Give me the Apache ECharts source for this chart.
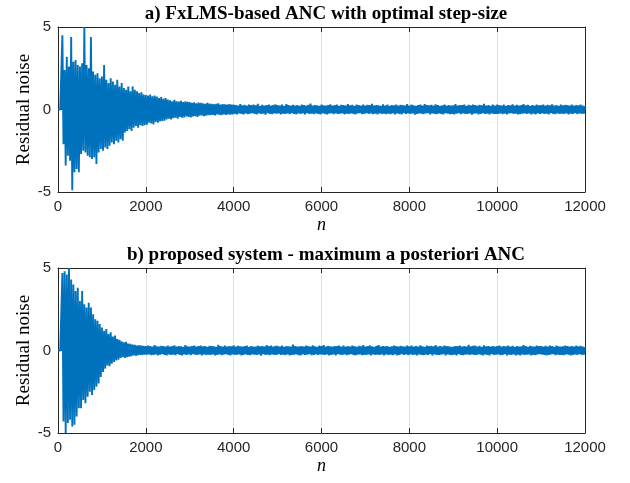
<!DOCTYPE html>
<html><head><meta charset="utf-8">
<script src="https://cdn.jsdelivr.net/npm/echarts@6/dist/echarts.min.js"></script>
<style>html,body{margin:0;padding:0;background:#fff}#c{width:630px;height:483px}</style>
</head><body><div id="c"></div>
<script>
const panelTitles = ['a) FxLMS-based ANC with optimal step-size', 'b) proposed system - maximum a posteriori ANC'];
const yAxisName = 'Residual noise';
const xAxisName = 'n';
const xMin = 0, xMax = 12000, xInterval = 2000;
const yMin = -5, yMax = 5, yInterval = 5;
const sampleStep = 25; // samples between consecutive stored values

// residual noise (a) – values read every 25 samples
const residualA = [
0,0,0,0,4.5,-2.1,2.4,-3.4,3.2,-2.8,2.6,-3.1,4.4,-4.9,2.9,-3.8,3.0,-3.6,2.7,-3.8,
2.6,-2.7,2.8,-2.5,5.0,-2.6,2.7,-2.8,2.5,-2.9,4.4,-3.0,2.3,-2.9,2.1,-3.3,2.2,-2.6,1.9,-2.4,
2.0,-2.5,2.7,-2.3,1.8,-2.4,1.6,-2.2,1.9,-2.0,1.7,-2.1,1.5,-1.9,1.8,-2.0,1.4,-1.8,1.6,-1.9,
1.3,-1.4,1.2,-1.3,1.4,-1.2,1.1,-1.3,1.4,-1.1,1.2,-1.0,1.1,-1.1,1.0,-0.95,1.05,-1.0,0.9,-0.95,
0.88,-0.92,0.85,-0.8,0.9,-0.85,0.8,-0.9,0.85,-0.75,0.78,-0.8,0.7,-0.72,0.75,-0.7,0.65,-0.68,0.7,-0.6,
0.6,-0.55,0.55,-0.6,0.5,-0.52,0.58,-0.5,0.5,-0.55,0.48,-0.45,0.52,-0.5,0.45,-0.48,0.5,-0.42,0.46,-0.45,
0.45,-0.48,0.4,-0.42,0.44,-0.4,0.38,-0.45,0.42,-0.38,0.4,-0.36,0.38,-0.4,0.35,-0.38,0.4,-0.35,0.36,-0.34,
0.35,-0.33,0.32,-0.36,0.34,-0.3,0.38,-0.32,0.3,-0.34,0.33,-0.3,0.31,-0.33,0.3,-0.29,0.32,-0.31,0.29,-0.3,
0.3,-0.26,0.27,-0.29,0.24,-0.23,0.32,-0.27,0.25,-0.3,0.28,-0.24,0.23,-0.28,0.3,-0.25,0.26,-0.22,0.29,-0.27,
0.25,-0.29,0.34,-0.24,0.22,-0.27,0.28,-0.25,0.24,-0.31,0.27,-0.22,0.3,-0.26,0.23,-0.28,0.26,-0.24,0.31,-0.25,
0.27,-0.23,0.24,-0.3,0.29,-0.25,0.22,-0.27,0.33,-0.24,0.26,-0.28,0.24,-0.22,0.28,-0.26,0.23,-0.3,0.27,-0.24,
0.22,-0.27,0.3,-0.24,0.26,-0.29,0.24,-0.22,0.28,-0.26,0.35,-0.25,0.23,-0.28,0.27,-0.23,0.25,-0.27,0.22,-0.3,
0.29,-0.24,0.25,-0.27,0.23,-0.3,0.27,-0.25,0.31,-0.22,0.24,-0.28,0.26,-0.24,0.3,-0.27,0.22,-0.25,0.28,-0.23,
0.26,-0.3,0.23,-0.25,0.32,-0.27,0.25,-0.23,0.28,-0.26,0.22,-0.29,0.3,-0.24,0.27,-0.22,0.24,-0.28,0.29,-0.26,
0.24,-0.22,0.28,-0.27,0.26,-0.24,0.34,-0.28,0.23,-0.25,0.27,-0.3,0.25,-0.23,0.22,-0.27,0.31,-0.25,0.24,-0.28,
0.3,-0.25,0.22,-0.28,0.27,-0.23,0.25,-0.3,0.29,-0.24,0.23,-0.26,0.28,-0.29,0.26,-0.22,0.24,-0.27,0.32,-0.24,
0.23,-0.27,0.29,-0.24,0.25,-0.31,0.22,-0.26,0.27,-0.23,0.3,-0.25,0.24,-0.28,0.33,-0.24,0.26,-0.22,0.25,-0.29,
0.28,-0.23,0.24,-0.26,0.31,-0.28,0.26,-0.24,0.22,-0.27,0.25,-0.3,0.29,-0.22,0.23,-0.25,0.27,-0.28,0.24,-0.26,
0.25,-0.29,0.32,-0.25,0.23,-0.22,0.27,-0.28,0.26,-0.24,0.3,-0.26,0.22,-0.27,0.28,-0.23,0.25,-0.31,0.29,-0.25,
0.27,-0.24,0.23,-0.3,0.28,-0.26,0.25,-0.22,0.34,-0.27,0.24,-0.25,0.26,-0.29,0.22,-0.24,0.3,-0.26,0.23,-0.27,
0.29,-0.26,0.26,-0.23,0.24,-0.28,0.3,-0.25,0.22,-0.3,0.27,-0.24,0.25,-0.22,0.31,-0.27,0.23,-0.25,0.28,-0.29,
0.24,-0.28,0.27,-0.25,0.33,-0.23,0.25,-0.27,0.28,-0.24,0.22,-0.29,0.26,-0.25,0.24,-0.3,0.29,-0.23,0.25,-0.26,
0.26,-0.23,0.3,-0.27,0.23,-0.25,0.28,-0.3,0.25,-0.22,0.31,-0.26,0.24,-0.28,0.27,-0.24,0.22,-0.27,0.3,-0.25,
0.25,-0.27,0.28,-0.24,0.26,-0.29,0.23,-0.25,0.3,-0.26,0.24,-0.22,0.27,-0.28,0.25,-0.24,0.29,-0.26,0.23,-0.25,
0.2
];

// residual noise (b) – values read every 25 samples
const residualB = [
0,0,0,0,4.7,-4.3,4.8,-5.0,4.6,-4.4,5.0,-4.2,4.3,-4.6,4.0,-4.5,3.6,-4.0,3.8,-3.5,
3.0,-3.5,3.6,-3.0,2.8,-3.2,2.6,-2.8,2.9,-2.5,2.6,-2.7,2.2,-2.4,1.9,-2.2,1.8,-2.0,1.6,-1.6,
1.4,-1.3,1.2,-1.1,1.3,-0.9,1.0,-0.95,1.1,-0.8,0.85,-0.7,0.9,-0.6,0.7,-0.55,0.65,-0.45,0.55,-0.4,
0.5,-0.45,0.53,-0.4,0.42,-0.38,0.4,-0.35,0.36,-0.3,0.35,-0.32,0.3,-0.28,0.32,-0.26,0.3,-0.27,0.28,-0.25,
0.27,-0.25,0.3,-0.23,0.26,-0.28,0.24,-0.26,0.32,-0.24,0.25,-0.29,0.23,-0.25,0.28,-0.22,0.26,-0.27,0.24,-0.3,
0.29,-0.24,0.23,-0.27,0.26,-0.25,0.31,-0.28,0.24,-0.22,0.27,-0.26,0.25,-0.3,0.22,-0.24,0.33,-0.26,0.25,-0.23,
0.24,-0.28,0.27,-0.22,0.3,-0.25,0.23,-0.27,0.26,-0.24,0.29,-0.3,0.25,-0.23,0.27,-0.26,0.22,-0.25,0.28,-0.27,
0.26,-0.23,0.25,-0.29,0.22,-0.26,0.34,-0.24,0.27,-0.28,0.23,-0.25,0.3,-0.22,0.24,-0.27,0.26,-0.3,0.25,-0.24,
0.31,-0.26,0.24,-0.25,0.28,-0.23,0.25,-0.3,0.23,-0.27,0.26,-0.24,0.29,-0.26,0.22,-0.28,0.27,-0.23,0.24,-0.25,
0.23,-0.27,0.29,-0.24,0.25,-0.31,0.27,-0.22,0.24,-0.26,0.32,-0.25,0.26,-0.28,0.3,-0.24,0.23,-0.27,0.28,-0.26,
0.28,-0.22,0.24,-0.27,0.3,-0.25,0.22,-0.28,0.27,-0.24,0.25,-0.3,0.23,-0.26,0.35,-0.25,0.26,-0.23,0.24,-0.28,
0.25,-0.3,0.27,-0.24,0.23,-0.26,0.29,-0.25,0.26,-0.22,0.24,-0.28,0.31,-0.27,0.25,-0.24,0.22,-0.26,0.3,-0.23,
0.26,-0.25,0.33,-0.27,0.24,-0.23,0.28,-0.3,0.25,-0.26,0.23,-0.24,0.27,-0.29,0.26,-0.22,0.29,-0.25,0.24,-0.27,
0.3,-0.24,0.23,-0.28,0.27,-0.25,0.24,-0.22,0.29,-0.27,0.26,-0.3,0.22,-0.25,0.28,-0.24,0.25,-0.28,0.32,-0.26,
0.24,-0.27,0.26,-0.23,0.31,-0.29,0.25,-0.24,0.22,-0.26,0.28,-0.25,0.33,-0.27,0.24,-0.23,0.27,-0.3,0.25,-0.24,
0.27,-0.26,0.22,-0.25,0.25,-0.28,0.3,-0.23,0.26,-0.3,0.24,-0.27,0.28,-0.22,0.25,-0.26,0.23,-0.24,0.29,-0.28,
0.25,-0.23,0.29,-0.27,0.24,-0.25,0.27,-0.29,0.23,-0.24,0.31,-0.26,0.25,-0.28,0.22,-0.25,0.3,-0.27,0.26,-0.22,
0.28,-0.29,0.25,-0.24,0.32,-0.26,0.23,-0.27,0.26,-0.25,0.24,-0.22,0.29,-0.3,0.27,-0.24,0.25,-0.26,0.22,-0.28,
0.23,-0.25,0.27,-0.3,0.26,-0.22,0.3,-0.26,0.24,-0.28,0.27,-0.25,0.23,-0.24,0.34,-0.27,0.25,-0.23,0.28,-0.26,
0.29,-0.27,0.24,-0.23,0.28,-0.25,0.22,-0.29,0.31,-0.24,0.25,-0.27,0.26,-0.3,0.24,-0.22,0.27,-0.26,0.23,-0.25,
0.26,-0.24,0.3,-0.28,0.23,-0.26,0.27,-0.22,0.25,-0.29,0.29,-0.25,0.24,-0.27,0.28,-0.24,0.22,-0.3,0.26,-0.25,
0.24,-0.29,0.25,-0.24,0.33,-0.27,0.26,-0.25,0.22,-0.23,0.28,-0.3,0.25,-0.26,0.23,-0.28,0.3,-0.24,0.27,-0.22,
0.27,-0.25,0.23,-0.26,0.28,-0.3,0.24,-0.27,0.3,-0.24,0.26,-0.22,0.22,-0.28,0.29,-0.25,0.25,-0.27,0.24,-0.26,
0.25,-0.28,0.29,-0.23,0.26,-0.25,0.24,-0.29,0.27,-0.26,0.23,-0.24,0.3,-0.27,0.25,-0.22,0.28,-0.26,0.24,-0.25,
0.2
];

const lineColor = '#0072BD';
const axisColor = '#262626';
const gridColor = '#e2e2e2';
const sansFont = '"Liberation Sans", Arial, Helvetica, sans-serif';
const serifFont = '"Liberation Serif", "Times New Roman", serif';

const grids = [
  { left: 58, width: 527, top: 27, height: 165 },
  { left: 58, width: 527, top: 268, height: 165 }
];

function toSeriesData(arr) { return arr.map((v, i) => [i * sampleStep, v]); }

const xAxes = [], yAxes = [], series = [], titles = [];
[residualA, residualB].forEach((vals, g) => {
  xAxes.push({
    gridIndex: g, type: 'value', min: xMin, max: xMax, interval: xInterval, position: 'bottom',
    name: xAxisName, nameLocation: 'middle', nameGap: 24,
    nameTextStyle: { fontFamily: serifFont, fontStyle: 'italic', fontSize: 18, color: '#000' },
    axisLine: { onZero: false, lineStyle: { color: axisColor, width: 1 } },
    axisTick: { inside: true, length: 5, lineStyle: { color: axisColor } },
    axisLabel: { fontFamily: sansFont, fontSize: 15, color: axisColor, margin: 7, formatter: v => String(v) },
    splitLine: { show: true, lineStyle: { color: gridColor, width: 1 } }
  });
  xAxes.push({
    gridIndex: g, type: 'value', min: xMin, max: xMax, interval: xInterval, position: 'top',
    axisLine: { onZero: false, lineStyle: { color: axisColor, width: 1 } },
    axisTick: { inside: true, length: 5, lineStyle: { color: axisColor } },
    axisLabel: { show: false }, splitLine: { show: false }
  });
  yAxes.push({
    gridIndex: g, type: 'value', min: yMin, max: yMax, interval: yInterval, position: 'left',
    name: yAxisName, nameLocation: 'middle', nameGap: 24, nameRotate: 90, nameMoveOverlap: false,
    nameTextStyle: { fontFamily: serifFont, fontSize: 19, color: '#000' },
    axisLine: { show: true, onZero: false, lineStyle: { color: axisColor, width: 1 } },
    axisTick: { show: true, inside: true, length: 5, lineStyle: { color: axisColor } },
    axisLabel: { fontFamily: sansFont, fontSize: 15, color: axisColor, margin: 7, formatter: v => String(v) },
    splitLine: { show: false }
  });
  yAxes.push({
    gridIndex: g, type: 'value', min: yMin, max: yMax, interval: yInterval, position: 'right',
    axisLine: { show: true, onZero: false, lineStyle: { color: axisColor, width: 1 } },
    axisTick: { show: true, inside: true, length: 5, lineStyle: { color: axisColor } },
    axisLabel: { show: false }, splitLine: { show: false }
  });
  series.push({
    type: 'line', xAxisIndex: g * 2, yAxisIndex: g * 2, data: toSeriesData(vals),
    showSymbol: false, symbol: 'none', clip: true, silent: true,
    lineStyle: { color: lineColor, width: 1.9 },
    areaStyle: { color: lineColor, opacity: 1, origin: 0 }, z: 1
  });
  titles.push({
    text: panelTitles[g], left: 321, textAlign: 'center', top: g === 0 ? 0 : 241,
    textStyle: { fontFamily: serifFont, fontWeight: 'bold', fontSize: 19, color: '#000' }
  });
});

const chart = echarts.init(document.getElementById('c'), null, { renderer: 'canvas' });
chart.setOption({
  animation: false,
  backgroundColor: '#fff',
  title: titles,
  grid: grids,
  xAxis: xAxes,
  yAxis: yAxes,
  series: series
});
</script>
</body></html>
